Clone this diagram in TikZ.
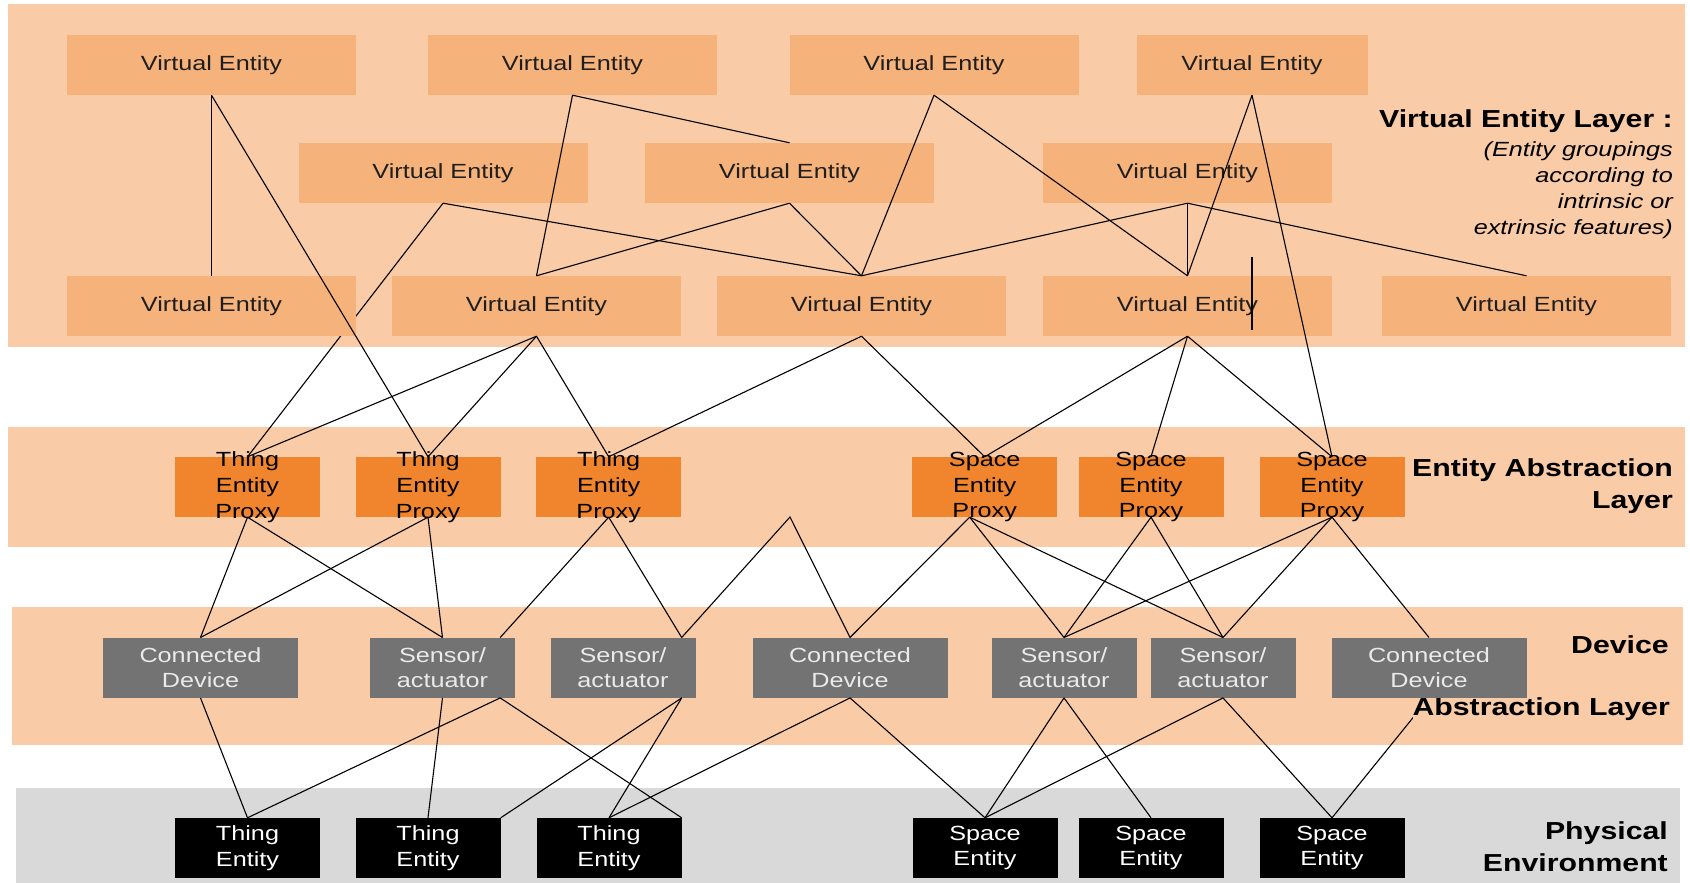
\documentclass[tikz,border=0pt]{standalone}
\usepackage{fontspec}
\setmainfont{Liberation Sans}[FakeStretch=1.23]
\usetikzlibrary{calc}
\definecolor{bandpeach}{HTML}{F9CBA7}
\definecolor{vefill}{HTML}{F6B27B}
\definecolor{proxyfill}{HTML}{F0852D}
\definecolor{devfill}{HTML}{737373}
\definecolor{devtext}{HTML}{EAEAEA}
\definecolor{physband}{HTML}{D9D9D9}
\definecolor{vetext}{HTML}{1E1E1E}
\pgfdeclarelayer{bands}
\pgfdeclarelayer{underlines}
\pgfdeclarelayer{labels}
\pgfsetlayers{bands,underlines,labels,main}

\begin{document}
\begin{tikzpicture}[x=1pt,y=-1pt,
  box/.style={rectangle, inner sep=0pt, minimum height=60pt, align=center,
              font=\fontsize{20.5}{25.7}\selectfont},
  vebox/.style={box, fill=vefill, minimum width=289pt, text=vetext},
  proxybox/.style={box, fill=proxyfill, minimum width=145pt},
  proxytext/.style={inner sep=0pt, align=center, text=black,
              font=\fontsize{20.5}{25.7}\selectfont},
  devbox/.style={box, fill=devfill, text=devtext},
  sabox/.style={devbox, minimum width=145pt},
  cdbox/.style={devbox, minimum width=195pt},
  physbox/.style={box, fill=black, text=white, minimum width=145pt},
  link/.style={draw=black, line width=1.1pt},
  layerlabel/.style={anchor=east, inner sep=0pt, align=right,
              font=\fontsize{24.6}{31.7}\selectfont\bfseries},
  notelabel/.style={anchor=east, inner sep=0pt, align=right,
              font=\fontsize{20.5}{26}\selectfont\itshape}
]
\useasboundingbox (0,0) rectangle (1690,883);

% layer bands
\begin{pgfonlayer}{bands}
  \fill[bandpeach] (8,4) rectangle (1685,347);
  \fill[bandpeach] (8,427) rectangle (1685,547);
  \fill[bandpeach] (12,607) rectangle (1683,745);
  \fill[physband] (16,788) rectangle (1680,883);
\end{pgfonlayer}

% virtual entities
\node[vebox] (VE1) at (211.5,65) {Virtual Entity};
\node[vebox] (VE2) at (572.5,65) {Virtual Entity};
\node[vebox] (VE3) at (934,65) {Virtual Entity};
\node[vebox, minimum width=231pt] (VE4) at (1252,65) {Virtual Entity};
\node[vebox] (VE5) at (443,173) {Virtual Entity};
\node[vebox] (VE6) at (789.5,173) {Virtual Entity};
\node[vebox] (VE7) at (1187.5,173) {Virtual Entity};
\node[vebox] (VE8) at (211.5,306) {Virtual Entity};
\node[vebox] (VE9) at (536.5,306) {Virtual Entity};
\node[vebox] (VE10) at (861.5,306) {Virtual Entity};
\node[vebox] (VE11) at (1187.5,306) {Virtual Entity};
\node[vebox] (VE12) at (1526.5,306) {Virtual Entity};

% entity proxies (three-line text runs past the box edges)
\node[proxybox, label={[proxytext]center:Thing\\Entity\\Proxy}] (TEP1) at (247.5,487) {};
\node[proxybox, label={[proxytext]center:Thing\\Entity\\Proxy}] (TEP2) at (428,487) {};
\node[proxybox, label={[proxytext]center:Thing\\Entity\\Proxy}] (TEP3) at (608.7,487) {};
\node[proxybox, label={[proxytext]center:Space\\Entity\\Proxy}] (SEP1) at (984.7,487) {};
\node[proxybox, label={[proxytext]center:Space\\Entity\\Proxy}] (SEP2) at (1151,487) {};
\node[proxybox, label={[proxytext]center:Space\\Entity\\Proxy}] (SEP3) at (1332,487) {};

% devices
\node[cdbox] (CD1) at (200.5,667.7) {Connected\\Device};
\node[sabox] (SA1) at (442.5,667.7) {Sensor/\\actuator};
\node[sabox] (SA2) at (623,667.7) {Sensor/\\actuator};
\node[cdbox] (CD2) at (850,667.7) {Connected\\Device};
\node[sabox] (SA3) at (1064,667.7) {Sensor/\\actuator};
\node[sabox] (SA4) at (1223,667.7) {Sensor/\\actuator};
\node[cdbox] (CD3) at (1429,667.7) {Connected\\Device};

% physical entities
\node[physbox] (TE1) at (247.5,848) {Thing\\Entity};
\node[physbox] (TE2) at (428,848) {Thing\\Entity};
\node[physbox] (TE3) at (609,848) {Thing\\Entity};
\node[physbox] (SE1) at (985,848) {Space\\Entity};
\node[physbox] (SE2) at (1151,848) {Space\\Entity};
\node[physbox] (SE3) at (1332,848) {Space\\Entity};

% free points
\coordinate (apex) at (790,517);
\coordinate (strayTop) at (1252,257);
\coordinate (strayBot) at (1252,330);

% layer captions
\node[layerlabel] (capVE) at (1673,121) {Virtual Entity Layer :};
\node[notelabel] (capNote) at (1673,190) {(Entity groupings\\according to\\intrinsic or\\extrinsic features)};
\node[layerlabel] (capEA) at (1673,486) {Entity Abstraction\\Layer};
\node[layerlabel] (capDev) at (1669,645) {Device};
\begin{pgfonlayer}{labels}
  \node[layerlabel, fill=bandpeach] (capDevB) at (1670,709) {Abstraction Layer};
\end{pgfonlayer}
\node[layerlabel] (capPhys) at (1668,847) {Physical\\Environment};

% links that run behind boxes and captions
\begin{pgfonlayer}{underlines}
  \draw[link] (VE5.south) -- (TEP1.north);
  \draw[link] (CD3.south) -- (SE3.north);
\end{pgfonlayer}

% links inside the virtual entity layer
\draw[link] (VE1.south) -- (VE8.north);
\draw[link] (VE1.south) -- (TEP2.north);
\draw[link] (VE2.south) -- (VE6.north);
\draw[link] (VE2.south) -- (VE9.north);
\draw[link] (VE5.south) -- (VE10.north);
\draw[link] (VE6.south) -- (VE9.north);
\draw[link] (VE6.south) -- (VE10.north);
\draw[link] (VE3.south) -- (VE10.north);
\draw[link] (VE3.south) -- (VE11.north);
\draw[link] (VE7.south) -- (VE10.north);
\draw[link] (VE7.south) -- (VE11.north);
\draw[link] (VE7.south) -- (VE12.north);
\draw[link] (VE4.south) -- (VE11.north);
\draw[link] (VE4.south) -- (SEP3.north);
\draw[link] (strayTop) -- (strayBot);

% virtual entities to proxies
\draw[link] (VE9.south) -- (TEP1.north);
\draw[link] (VE9.south) -- (TEP2.north);
\draw[link] (VE9.south) -- (TEP3.north);
\draw[link] (VE10.south) -- (TEP3.north);
\draw[link] (VE10.south) -- (SEP1.north);
\draw[link] (VE11.south) -- (SEP1.north);
\draw[link] (VE11.south) -- (SEP2.north);
\draw[link] (VE11.south) -- (SEP3.north);

% proxies to devices
\draw[link] (TEP1.south) -- (CD1.north);
\draw[link] (TEP1.south) -- (SA1.north);
\draw[link] (TEP2.south) -- (CD1.north);
\draw[link] (TEP2.south) -- (SA1.north);
\draw[link] (TEP3.south) -- ([xshift=-15pt]SA1.north east);
\draw[link] (TEP3.south) -- ([xshift=-14pt]SA2.north east);
\draw[link] ([xshift=-14pt]SA2.north east) -- (apex) -- (CD2.north);
\draw[link] ([xshift=-15pt]SEP1.south) -- (CD2.north);
\draw[link] ([xshift=-15pt]SEP1.south) -- (SA3.north);
\draw[link] ([xshift=-15pt]SEP1.south) -- (SA4.north);
\draw[link] (SEP2.south) -- (SA3.north);
\draw[link] (SEP2.south) -- (SA4.north);
\draw[link] (SEP3.south) -- (SA3.north);
\draw[link] (SEP3.south) -- (SA4.north);
\draw[link] (SEP3.south) -- (CD3.north);

% devices to physical entities
\draw[link] (CD1.south) -- (TE1.north);
\draw[link] (SA1.south) -- (TE2.north);
\draw[link] ([xshift=-15pt]SA1.south east) -- (TE1.north);
\draw[link] ([xshift=-15pt]SA1.south east) -- (TE3.north east);
\draw[link] ([xshift=-14pt]SA2.south east) -- (TE2.north east);
\draw[link] ([xshift=-14pt]SA2.south east) -- (TE3.north);
\draw[link] (CD2.south) -- (TE3.north);
\draw[link] (CD2.south) -- (SE1.north);
\draw[link] (SA3.south) -- (SE1.north);
\draw[link] (SA3.south) -- (SE2.north);
\draw[link] (SA4.south) -- (SE1.north);
\draw[link] (SA4.south) -- (SE3.north);
\end{tikzpicture}
\end{document}
